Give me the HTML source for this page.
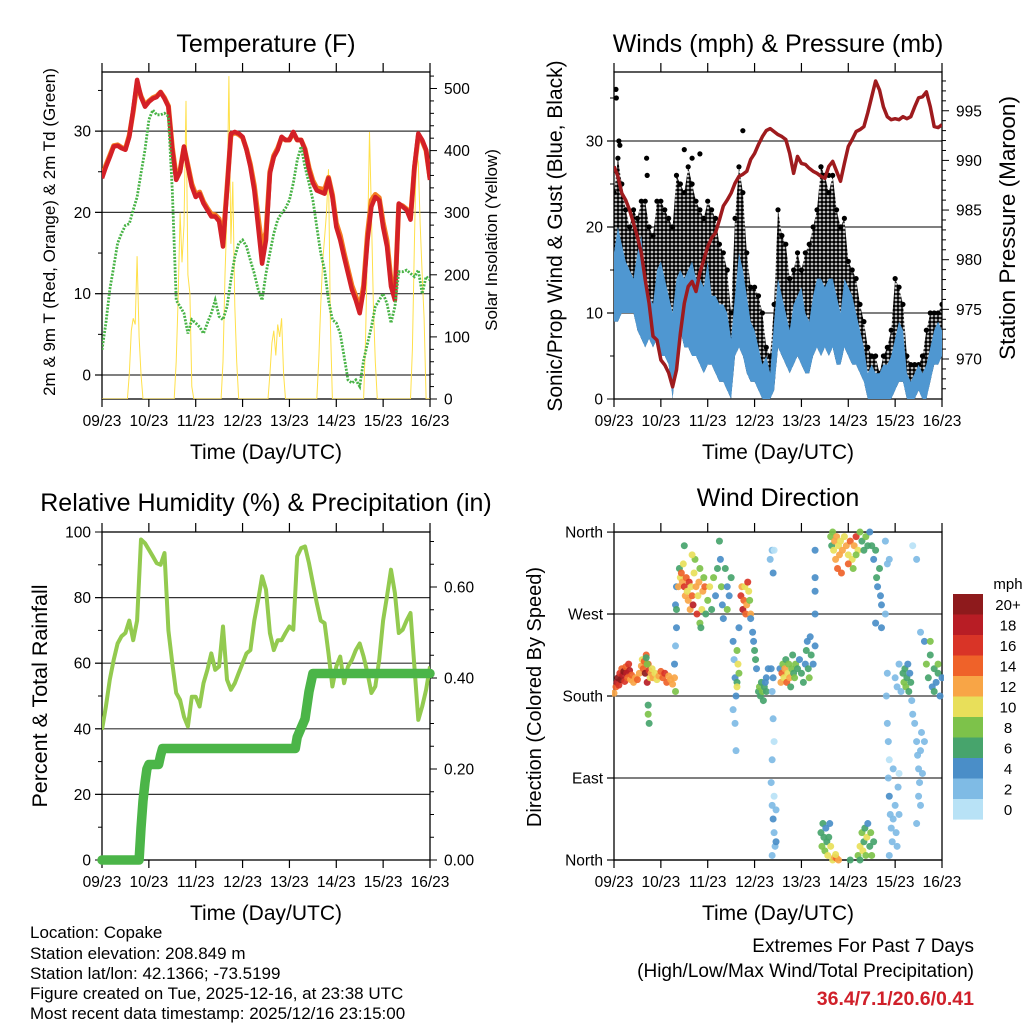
<!DOCTYPE html>
<html><head><meta charset="utf-8"><style>
body{margin:0;background:#fff;}
svg{display:block;font-family:"Liberation Sans",sans-serif;}
</style></head><body>
<svg id="c" width="1024" height="1024" viewBox="0 0 1024 1024" xmlns="http://www.w3.org/2000/svg">
<defs>
<pattern id="dots" width="4" height="4" patternUnits="userSpaceOnUse"><rect width="4" height="4" fill="#fff"/><circle cx="2" cy="2" r="1.9" fill="#000"/></pattern>
</defs>
<rect width="1024" height="1024" fill="#fff"/>
<g id="layer"></g>
<g font-size="25" text-anchor="middle" fill="#000">
<text x="266" y="52">Temperature (F)</text>
<text x="778" y="52">Winds (mph) &amp; Pressure (mb)</text>
<text x="266" y="511">Relative Humidity (%) &amp; Precipitation (in)</text>
<text x="778" y="506">Wind Direction</text>
</g>
<g font-size="21" text-anchor="middle">
<text x="266" y="459">Time (Day/UTC)</text>
<text x="778" y="459">Time (Day/UTC)</text>
<text x="266" y="920">Time (Day/UTC)</text>
<text x="778" y="920">Time (Day/UTC)</text>
<text transform="translate(55,232) rotate(-90)" font-size="17">2m &amp; 9m T (Red, Orange) &amp; 2m Td (Green)</text>
<text transform="translate(497,240) rotate(-90)" font-size="17">Solar Insolation (Yellow)</text>
<text transform="translate(562,236) rotate(-90)" font-size="21">Sonic/Prop Wind &amp; Gust (Blue, Black)</text>
<text transform="translate(1015,228) rotate(-90)" font-size="22.5">Station Pressure (Maroon)</text>
<text transform="translate(47,696) rotate(-90)" font-size="21.5">Percent &amp; Total Rainfall</text>
<text transform="translate(541,697) rotate(-90)" font-size="20">Direction (Colored By Speed)</text>
</g>
<g font-size="17" fill="#000">
<text x="30" y="938">Location: Copake</text>
<text x="30" y="959">Station elevation: 208.849 m</text>
<text x="30" y="979">Station lat/lon: 42.1366; -73.5199</text>
<text x="30" y="999">Figure created on Tue, 2025-12-16, at 23:38 UTC</text>
<text x="30" y="1019">Most recent data timestamp: 2025/12/16 23:15:00</text>
</g>
<g font-size="19" text-anchor="end">
<text x="974" y="952">Extremes For Past 7 Days</text>
<text x="974" y="977">(High/Low/Max Wind/Total Precipitation)</text>
<text x="974" y="1005" fill="#d0202a" font-weight="bold" font-size="19.5">36.4/7.1/20.6/0.41</text>
</g>
</svg>
<script>
// ---------- data ----------
const xTickLabels=["09/23","10/23","11/23","12/23","13/23","14/23","15/23","16/23"];
const t2h=[];for(let i=0;i<=84;i++)t2h.push(i*2);
const temp2m=[24.2,25.6,26.8,28.1,28.2,27.9,27.7,29.3,32.6,36.3,34.2,33,33.6,34,34.2,34.8,34,33,27.7,24,25,28.1,25.6,23.2,21.9,22.3,21.1,20.3,19.5,19.5,18.9,15.8,22.7,29.7,29.9,29.7,29.3,27.7,25.6,22.7,18.2,13.7,16.6,24.8,26.8,27.7,29.3,28.9,28.9,29.9,28.9,28.9,27.7,25.2,23.6,22.7,22.5,22.3,24.2,21.9,18.2,16.6,14.5,12.5,10.5,9.2,7.6,10.5,16.6,20.7,21.9,21.5,18.2,15.8,10.9,9.2,21.1,20.7,20.3,19.1,25.6,29.7,28.9,27.7,24];
const temp9m=[24.4,25.8,27,28.2,28.3,28,27.8,29.5,32.4,35.8,34.3,33.2,33.7,34.1,34.3,34.8,34.1,33.1,28,24.4,25.2,28,25.8,23.5,22.2,22.5,21.3,20.5,19.8,19.7,19.2,16.5,23,29.5,29.8,29.6,29.2,27.8,25.9,23.3,19.4,15.6,17.6,25,27,27.9,29.2,28.9,28.9,29.8,28.9,28.9,27.8,25.5,23.9,23,22.9,22.8,24.3,22.2,18.7,17.2,15,13,11,9.7,8.2,11,17.4,21.5,22.2,21.8,18.8,16.5,11.6,9.8,21,20.8,20.4,19.3,25.4,29.4,28.8,27.6,24.2];
const dewpoint=[3.1,6.4,10.5,13.3,16.2,17.4,18.4,18.6,20.3,21.9,24.8,27.7,31.4,32.6,32,32,32.2,31.8,22.7,9.2,8.4,7.6,5.1,6.8,6.4,5.9,5.1,6.4,7.6,9.2,7.2,6.8,8.4,11.7,14.5,16.2,16.6,15.8,14.1,12.5,10.5,9.2,12.5,15,17.4,19.1,19.9,20.5,21.5,23.6,26.4,28.1,25.6,23.6,21.5,18.2,15,12.9,9.2,6.8,6.4,5.1,2.3,-0.6,-1,-0.6,-1.4,1.8,3.9,5.9,8.4,9.2,10,8.8,6.4,8.4,12.7,12.7,12.9,12.5,12.1,12.9,10,12.1,11.7];
const solarT=[0,13,14,15,16,17,18,19,20,21,37,38,39,40,41,42,43,44,45,46,47,61,62,63,64,65,66,67,68,69,70,85,86,87,88,89,90,91,92,93,94,110,111,112,113,114,115,116,117,118,134,135,136,137,138,139,140,141,158,159,160,161,162,163,164,165,166,168];
const solarV=[0,0,40,110,130,120,230,100,40,0,0,60,160,300,220,280,480,200,170,20,0,0,60,200,300,520,250,350,150,60,0,0,40,90,110,70,120,100,130,40,0,0,60,150,220,260,300,370,120,0,0,100,250,430,300,150,60,0,0,80,250,400,380,280,200,130,0,0];
const pressure=[989.4,988.4,986.7,986,985,983.7,982.3,980.7,978,975.6,972.3,971.9,969.9,969.4,968.6,967.2,968.9,972.6,975.6,977.3,977.8,976.8,978.7,980,981.3,982.2,982.7,984,985.4,986,986.7,987.7,988.4,988.6,988.9,990.1,990.7,991.6,992.4,993,993.2,992.9,992.6,992.4,992.1,990.7,988.7,990.4,989.7,989.6,989.2,988.9,988.7,988.4,988.2,989.4,989.9,988.9,987.9,989.7,991.4,992.1,992.9,993.1,993.4,994.8,996.4,998,997.1,995.4,994.4,994.1,994.2,994.1,994.4,994.2,994.4,995.4,996.3,996.4,996.9,995.4,993.4,993.3,993.6];
const windHigh=[17,20,18,16,15,14,17,19,14,12,11,15,16,14,12,10,14,15,14,15,16,14,14,13,16,12,12,11,11,10,7,12,17,15,12,9,8,6,4,5,3,9,14,12,10,8,11,12,13,10,9,12,14,14,13,14,14,12,10,14,13,12,10,8,6,3,4,3,3,4,4,5,7,9,8,3,2,3,4,3,4,6,8,9,8];
const windLow=[9,9,10,10,10,10,8,7,6,7,6,7,5,5,4,0,5,8,6,6,5,5,4,3,4,4,3,2,2,1,0,5,6,5,3,2,2,1,0,0,0,1,6,5,4,3,4,5,4,3,3,5,6,5,6,5,6,4,4,6,5,4,4,3,2,0,0,0,0,0,0,0,1,2,2,0,0,0,1,0,0,2,4,4,5];
const gustHigh=[24,28,25,22,20,22,21,23,23,20,19,23,23,22,21,20,26,25,24,27,25,23,22,21,23,22,21,18,17,15,10,21,27,24,17,13,13,12,10,6,5,11,22,19,18,14,15,17,15,17,18,20,22,27,26,24,26,22,20,21,16,15,14,11,9,6,5,5,3,5,6,8,14,13,11,5,4,4,4,5,8,10,10,10,11];
const gustOutT=[1,1.2,2.5,3,16.7,17,36,40,44,66,106,110];
const gustOutV=[36,35,30,29.5,28,26,29,28,28.5,31.2,27,26];
const rh=[39.7,46.8,55,61,66,68.2,69.2,73,67,73,97.7,96.6,94.6,92.6,90.5,90,93.6,70,60,50.9,48.8,43.7,40.7,49.8,49.8,46.8,53.9,58,63,58,59,71.2,55,51.9,53.9,57,60,63,64,73,79.3,86.5,82.4,69.2,64,67,67,69.2,71.2,70.2,92.6,95.1,95.6,90.5,84.4,78.3,73,72.2,63,52.9,59,62,53.9,59,61,64,66,62,57,50.9,52.9,61,73,80.4,88.5,81.4,69.2,70.2,73,75.3,59,42.7,46.8,51.9,59];
const precipT=[0,19,20,21,22,23,24,29,30,31,99,100,102,104,106,108,168];
const precipV=[0,0,0.07,0.13,0.17,0.2,0.21,0.21,0.23,0.245,0.245,0.27,0.29,0.31,0.37,0.41,0.41];
const dirPts=[[0,183,12],[1,190,14],[1.5,195,18],[2,200,20],[2.5,192,16],[3,205,17],[3.5,198,20],[4,210,14],[4.5,203,18],[5,207,20],[5.5,196,16],[6,212,14],[6.5,205,19],[7,200,14],[7.5,215,16],[8,208,18],[8.5,198,12],[9,203,14],[10,195,13],[11,200,12],[12,198,14],[13,205,12],[14,213,13],[14.5,220,11],[15,210,15],[15.5,218,14],[16,205,20],[16.5,225,15],[17,195,18],[17.5,215,14],[18,208,16],[18.5,200,11],[19,205,13],[19.5,210,10],[20,200,12],[21,205,10],[22,198,10],[23,202,12],[24,207,14],[25,200,15],[26,205,16],[27,195,14],[28,202,13],[29,198,12],[30,193,12],[31,200,12],[17.5,170,6],[17.5,160,8],[18,150,6],[17,215,8],[16.5,222,6],
[31,215,4],[31.5,235,2],[32,255,4],[31.5,280,4],[32,300,4],[31.5,185,8],[32,275,6],
[33,300,12],[33.5,320,6],[34,310,10],[34.5,315,14],[35,305,12],[35.5,325,10],[36,300,16],[36.5,290,12],[37,310,14],[37.5,295,10],[38,285,12],[38.5,305,16],[39,275,12],[39.5,300,10],[40,290,14],[40.5,280,18],[41,315,10],[41.5,330,8],[42,300,12],[42.5,270,16],[43,290,10],[43.5,305,12],[44,260,8],[44.5,255,6],[45,275,10],[45.5,295,12],[46,310,8],[46.5,300,14],[47,270,6],[36,345,6],[40,335,10],[44,320,8],
[48,285,8],[49,300,10],[50,275,6],[51,310,8],[52,290,4],[53,320,6],[54,350,6],[54.5,330,4],[55,300,8],[55.5,280,4],[56,265,4],[57,320,6],[58,300,4],[58,275,8],[59,290,4],[60,310,6],
[61,240,4],[61.5,220,2],[62,200,4],[62.5,180,4],[61,165,2],[62,150,2],[62.5,120,2],[63,195,6],[63.5,215,10],[64,205,8],[63,230,8],[64,255,4],[63,190,10],
[65,290,16],[65.5,300,12],[66,275,18],[66.5,285,14],[67,300,10],[67.5,270,14],[68,280,12],[68.5,305,16],[69,295,10],[69.5,285,8],[70,270,12],
[70,265,4],[71,250,4],[71.5,240,4],[72,230,6],[72.5,220,6],[73,210,4],
[74,185,6],[74.5,190,8],[75,180,6],[75.5,195,6],[76,185,8],[76.5,175,6],[77,190,6],[77.5,195,4],[78,185,6],[78,200,4],[79,210,4],
[80,330,2],[81,340,2],[81.5,315,4],[82,340,0],[80.5,210,4],[81,185,2],[81.5,155,2],[82,130,0],[81,110,2],[80.5,85,2],[81,60,2],[81.5,45,4],[82,30,2],[82.5,15,2],[81,5,2],[83,55,2],[82,70,0],[83,20,4],[81.5,200,4],
[85,210,4],[85.5,195,12],[86,205,14],[86.5,215,8],[87,200,10],[87.5,210,12],[88,220,6],[88.5,195,14],[89,205,10],[89.5,215,8],[90,200,12],[90.5,190,6],[91,210,8],[91.5,225,6],[92,205,6],[92.5,200,8],[93,215,8],[94,210,6],[95,220,4],[96,205,6],
[97,195,6],[98,215,4],[98.5,230,6],[99,240,4],[99.5,210,6],[100,200,8],[100.5,245,4],[101,225,6],[102,215,4],
[103,340,4],[103,310,4],[103,295,4],[103,270,4],[103,235,4],
[106,30,6],[106.5,15,8],[107,40,6],[107.5,25,6],[108,10,8],[108.5,35,4],[109,20,6],[109.5,5,10],[110,25,6],[110.5,40,4],[111,15,10],
[111,355,8],[111.5,345,6],[112,360,8],[112.5,340,10],[113,350,12],[113.5,330,12],[114,355,12],[114.5,320,14],[115,345,10],[115.5,335,12],[116,350,10],[116.5,315,14],[117,340,12],
[112,0,10],[113,3,12],[114,2,14],[115,0,12],[113.5,6,10],
[118,355,10],[119,345,12],[120,335,10],[121,350,14],[122,330,10],[122.5,320,8],[123,345,12],[124,355,16],[125,340,10],[126,360,8],[127,350,6],[128,340,6],[129,355,8],[130,345,6],[131,360,4],[120,325,14],[124,335,8],
[125,5,8],[126,15,10],[127,30,8],[127.5,10,10],[128,20,6],[128.5,35,6],[129,5,8],[129.5,25,10],[130,40,4],[131,15,6],[131.5,30,8],[132,5,8],[133,20,6],[126,0,6],[121,0,6],
[132,345,6],[133,330,4],[134,340,6],[134.5,310,6],[135,300,4],[136,320,6],[136.5,290,4],[137,280,4],[134,260,4],[137,255,4],
[139,350,2],[140,325,2],[141,330,2],[139,270,2],[140,205,2],[139.5,180,2],[140,150,2],[140.5,130,2],[141,110,0],[140.5,90,2],[141,70,4],[141.5,50,2],[142,35,2],[142.5,20,2],[141,5,2],[143,45,2],[144,60,2],[144.5,30,2],[145,15,2],[146,50,2],[145.5,80,2],[146,95,0],[143,100,2],[144,200,2],[145,190,2],[146,215,2],[147,185,2],
[148,205,6],[148.5,195,8],[149,210,6],[149.5,190,8],[150,200,6],[150.5,215,4],[151,185,6],[151.5,205,4],[152,195,6],
[152.5,175,2],[153,160,2],[154,150,2],[155,130,2],[155.5,115,2],[156,100,2],[156.5,85,2],[157,120,2],[157.5,140,2],[156,70,2],[155,40,2],[157,60,2],[158,95,2],[159,130,2],[153,345,0],[155,330,2],[157,250,2],[159,240,4],
[160,215,8],[161,200,6],[162,225,6],[163,190,4],[164,210,6],[165,195,4],[166,205,6],[167,180,4],[168,200,4],[162,240,8],[164,185,6],[166,215,8]];
const dirT=dirPts.map(p=>p[0]);
const dirD=dirPts.map(p=>p[1]);
const dirS=dirPts.map(p=>p[2]);
const speedLabels=["0","2","4","6","8","10","12","14","16","18","20+"];
const speedColors=["#b8e2f6","#7fbbe5","#4a8ec8","#47a46c","#7dc24a","#e8df5a","#f8a546","#ef6229","#d93427","#b81d25","#8e1a1c"];

// ---------- helpers ----------
const NS="http://www.w3.org/2000/svg";
const layer=document.getElementById('layer');
function el(tag,attrs,parent){const e=document.createElementNS(NS,tag);for(const k in attrs)e.setAttribute(k,attrs[k]);(parent||layer).appendChild(e);return e;}
const X1=t=>102+t*328/168, X2=t=>614+t*328/168;
const yTemp=v=>375-8.13*v, ySolar=w=>399-0.621*w;
const yWind=v=>399-8.6*v, yPres=p=>359-(p-970)*9.93;
const yRH=v=>860-3.28*v, yPrecip=v=>860-v*455;
const yDir=d=>860-d*0.911;
function path(xs,ys){return xs.map((x,i)=>(i?'L':'M')+x.toFixed(1)+' '+ys[i].toFixed(1)).join('');}

function frame(x0,y0,x1,y1,name,leftTicks,rightTicks,grid){
  const g=el('g',{});
  
  
  grid.forEach(y=>{const l=el('line',{x1:x0-7,x2:x1,y1:y,y2:y,stroke:'#333','stroke-width':1.2},g);});
  xTickLabels.forEach((lab,i)=>{const x=x0+i*(x1-x0)/7;
    el('line',{x1:x,x2:x,y1:y1,y2:y1+8,stroke:'#000','stroke-width':1.2},g);
    el('line',{x1:x,x2:x,y1:y0,y2:y0-9,stroke:'#000','stroke-width':1.2},g);
    const tx=el('text',{x:x,y:y1+27,'font-size':15.5,'text-anchor':'middle'},g);tx.textContent=lab;
    
    });
  leftTicks.forEach(([y,lab,major])=>{el('line',{x1:x0-(major?7:4),x2:x0,y1:y,y2:y,stroke:'#000','stroke-width':1},g);
    if(major&&lab!==null){const tx=el('text',{x:x0-11,y:y+5.5,'font-size':15.5,'text-anchor':'end'},g);tx.textContent=lab;
    
    }});
  rightTicks.forEach(([y,lab,major])=>{el('line',{x1:x1,x2:x1+(major?7:4),y1:y,y2:y,stroke:'#000','stroke-width':1},g);
    if(major&&lab!==null){const tx=el('text',{x:x1+14,y:y+5.5,'font-size':15.5,'text-anchor':'start'},g);tx.textContent=lab;
    
    }});
  el('rect',{x:x0,y:y0,width:x1-x0,height:y1-y0,fill:'none',stroke:'#000','stroke-width':1.3},g);
  return g;
}
const clip=(id,x0,y0,x1,y1)=>{const d=el('clipPath',{id:id});el('rect',{x:x0,y:y0,width:x1-x0,height:y1-y0},d);};
clip('c1',102,72,430,399);clip('c2',614,72,942,399);clip('c3',102,532,430,860);clip('c4',612,528,944,864);

// ---------- panel 1: temperature ----------
{const lt=[],rt=[];for(let v=0;v<=35;v+=5)lt.push([yTemp(v),String(v),v%10===0]);
 for(let w=0;w<=520;w+=20)rt.push([ySolar(w),String(w),w%100===0]);
 frame(102,72,430,399,'temperature',lt,rt,[0,10,20,30].map(yTemp));
 const g=el('g',{'clip-path':'url(#c1)'});
 const s=el('path',{d:path(solarT.map(X1),solarV.map(ySolar)),fill:'none',stroke:'#ffe04a','stroke-width':1},g);
 
 const o=el('path',{d:path(t2h.map(X1),temp9m.map(yTemp)),fill:'none',stroke:'#f47c21','stroke-width':5,'stroke-linejoin':'round'},g);
 
 const r=el('path',{d:path(t2h.map(X1),temp2m.map(yTemp)),fill:'none',stroke:'#d42027','stroke-width':4.5,'stroke-linejoin':'round'},g);
 
 const d=el('path',{d:path(t2h.map(X1),dewpoint.map(yTemp)),fill:'none',stroke:'#48b346','stroke-width':2.8,'stroke-dasharray':'2 1.4'},g);
 }

// ---------- panel 2: wind & pressure ----------
{const lt=[],rt=[];for(let v=0;v<=35;v+=5)lt.push([yWind(v),String(v),v%10===0]);
 for(let p=967;p<=998;p++)rt.push([yPres(p),String(p),p%5===0]);
 frame(614,72,942,399,'winds',lt,rt,[10,20,30].map(yWind));
 const g=el('g',{'clip-path':'url(#c2)'});
 const xs=t2h.map(X2);
 const gb=el('path',{d:path(xs,gustHigh.map(yWind))+path(xs.slice().reverse(),windLow.slice().reverse().map(yWind)).replace('M','L')+'Z',fill:'url(#dots)'},g);
 
 gustHigh.forEach((v,i)=>{const c=el('circle',{cx:X2(t2h[i]),cy:yWind(v),r:2.6,fill:'#000'},g);
   });
 gustOutT.forEach((t,i)=>{const c=el('circle',{cx:X2(t),cy:yWind(gustOutV[i]),r:2.6,fill:'#000'},g);
   });
 const wb=el('path',{d:path(xs,windHigh.map(yWind))+path(xs.slice().reverse(),windLow.slice().reverse().map(yWind)).replace('M','L')+'Z',fill:'#4f97d1'},g);
 
 const p=el('path',{d:path(xs,pressure.map(yPres)),fill:'none',stroke:'#9e1b1e','stroke-width':3.5,'stroke-linejoin':'round'},g);
 }

// ---------- panel 3: RH & precip ----------
{const lt=[],rt=[];for(let v=0;v<=100;v+=10)lt.push([yRH(v),String(v),v%20===0]);
 for(let k=0;k<=14;k++){const v=k*0.05;rt.push([yPrecip(v),v.toFixed(2),k%4===0]);}
 frame(102,532,430,860,'humidity',lt,rt,[20,40,60,80].map(yRH));
 const g=el('g',{'clip-path':'url(#c3)'});
 const h=el('path',{d:path(t2h.map(X1),rh.map(yRH)),fill:'none',stroke:'#93ca4f','stroke-width':4,'stroke-linejoin':'round'},g);
 
 const g2=el('g',{});
 const pr=el('path',{d:path(precipT.map(X1),precipV.map(yPrecip)),fill:'none',stroke:'#4bb548','stroke-width':9.5,'stroke-linejoin':'round','stroke-linecap':'round'},g2);
 }

// ---------- panel 4: wind direction ----------
{const dirLabels=["North","East","South","West","North"];
 const lt=[0,90,180,270,360].map((d,i)=>[yDir(d),dirLabels[i],true]);
 frame(614,532,942,860,'direction',lt,[],[90,180,270,0,360].map(yDir));
 const g=el('g',{'clip-path':'url(#c4)'});
 dirT.forEach((t,i)=>{const bin=Math.max(0,Math.min(10,Math.floor(dirS[i]/2)));
   const c=el('circle',{cx:X2(t),cy:yDir(dirD[i]),r:3.5,fill:speedColors[bin],'fill-opacity':0.92},g);
   });
 const lg=el('g',{});
 
 const mt=el('text',{x:1008,y:589,'font-size':15,'text-anchor':'middle'},lg);mt.textContent='mph';
 speedLabels.forEach((lab,i)=>{const k=10-i;const y=594+i*20.5;
   const rc=el('rect',{x:953,y:y,width:30,height:20.6,fill:speedColors[k]},lg);
   
   const tx=el('text',{x:1008,y:y+16,'font-size':15,'text-anchor':'middle'},lg);tx.textContent=speedLabels[k];
   });}
</script>
</body></html>
